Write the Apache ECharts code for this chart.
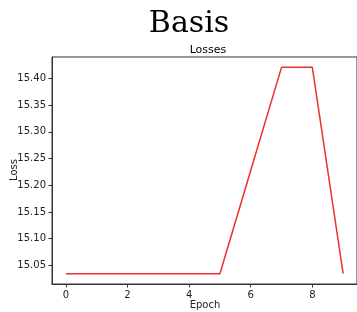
<!DOCTYPE html>
<html>
<head>
<meta charset="utf-8">
<script src="https://cdn.jsdelivr.net/npm/echarts@6/dist/echarts.min.js"></script>
<style>
  html, body { margin: 0; padding: 0; background: #fff; }
  #chart { width: 357px; height: 312px; }
</style>
</head>
<body>
<div id="chart"></div>
<script>
// data
const epochs = [0, 1, 2, 3, 4, 5, 6, 7, 8, 9];
const losses = [15.0345, 15.0345, 15.0345, 15.0345, 15.0345, 15.0345, 15.2276, 15.4206, 15.4206, 15.0345];
const xTicks = [0, 2, 4, 6, 8];
const yTicks = [15.05, 15.10, 15.15, 15.20, 15.25, 15.30, 15.35, 15.40];

const chart = echarts.init(document.getElementById('chart'));

const tickFont = { fontFamily: 'DejaVu Sans', fontSize: 10, color: '#222' };

const option = {
  animation: false,
  title: [
    {
      text: 'Basis',
      left: 184, top: 4,
      textAlign: 'center',
      textStyle: { fontFamily: 'DejaVu Serif', fontSize: 30, fontWeight: 'normal', color: '#000' }
    },
    {
      text: 'Losses',
      left: 203, top: 40,
      textAlign: 'center',
      textStyle: { fontFamily: 'DejaVu Sans', fontSize: 11, fontWeight: 'normal', color: '#000' }
    }
  ],
  // axis names placed by hand, like matplotlib's xlabel / ylabel
  graphic: [
    {
      type: 'text', x: 205, y: 305,
      style: { text: 'Epoch', align: 'center', verticalAlign: 'middle', font: '10px "DejaVu Sans"', fill: '#222' }
    },
    {
      type: 'text', x: 14, y: 170, rotation: Math.PI / 2,
      style: { text: 'Loss', align: 'center', verticalAlign: 'middle', font: '10px "DejaVu Sans"', fill: '#222' }
    }
  ],
  grid: {
    left: 52, right: 0, top: 57, bottom: 28,
    containLabel: false, outerBoundsMode: 'none',
    show: true, borderColor: '#333', borderWidth: 1
  },
  xAxis: {
    type: 'value',
    min: -0.45, max: 9.45,
    axisLine: { show: true, onZero: false, lineStyle: { color: '#333' } },
    axisTick: { show: true, length: 3.5, customValues: xTicks, lineStyle: { color: '#333' } },
    axisLabel: Object.assign({ customValues: xTicks, margin: 6 }, tickFont),
    splitLine: { show: false }
  },
  yAxis: {
    type: 'value',
    min: 15.0152, max: 15.44,
    axisLine: { show: true, onZero: false, lineStyle: { color: '#333' } },
    axisTick: { show: true, length: 3.5, customValues: yTicks, lineStyle: { color: '#333' } },
    axisLabel: Object.assign({ customValues: yTicks, margin: 6, formatter: v => v.toFixed(2) }, tickFont),
    splitLine: { show: false }
  },
  series: [{
    type: 'line',
    data: epochs.map((e, i) => [e, losses[i]]),
    showSymbol: false,
    lineStyle: { color: '#e8312a', width: 1.5 }
  }]
};

chart.setOption(option);
</script>
</body>
</html>
